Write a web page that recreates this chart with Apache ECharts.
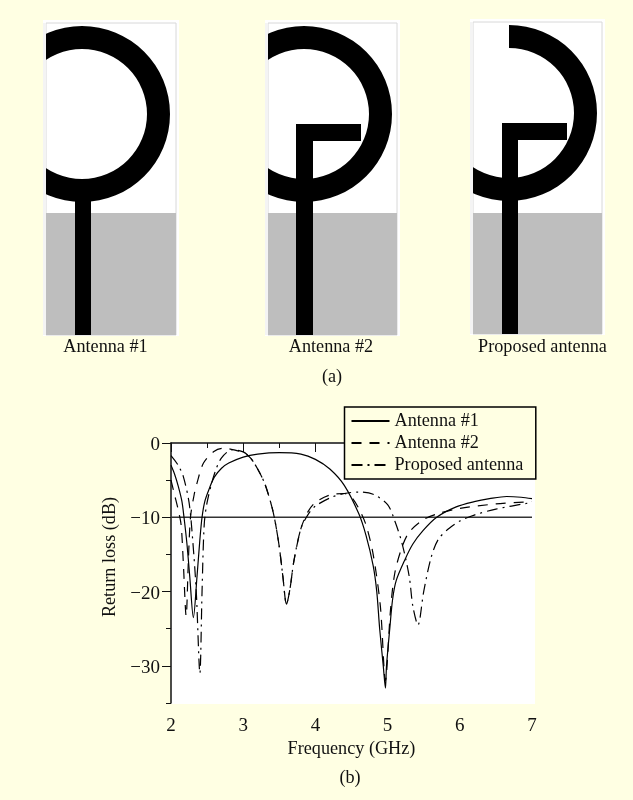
<!DOCTYPE html>
<html><head><meta charset="utf-8">
<script src="https://cdn.jsdelivr.net/npm/echarts@6/dist/echarts.min.js"></script>
<style>html,body{margin:0;padding:0;background:#FFFFE3}#c{width:633px;height:800px}</style>
</head><body><div id="c"></div>
<script>
const seriesNames = ['Antenna #1', 'Antenna #2', 'Proposed antenna'];
const yMajorTicks = [0,-10,-20,-30];
const yMinorTicks = [-5,-15,-25,-35];
const yTickLabels = {'0':'0','-10':'\u221210','-20':'\u221220','-30':'\u221230'};
const antenna1 = [[2,-3],[2.05,-4.2],[2.1,-5.8],[2.15,-7.8],[2.18,-10],[2.22,-13.5],[2.26,-18],[2.31,-23.5],[2.36,-18],[2.4,-13],[2.43,-10],[2.47,-7.8],[2.54,-5.9],[2.6,-4.6],[2.7,-3.4],[2.8,-2.7],[3,-1.9],[3.2,-1.5],[3.5,-1.3],[3.8,-1.5],[4,-2.2],[4.2,-3.5],[4.4,-5.7],[4.6,-9.5],[4.7,-12.4],[4.8,-16.5],[4.85,-20],[4.89,-25],[4.94,-30],[4.97,-33],[4.985,-30],[5.03,-25],[5.07,-21],[5.12,-18.5],[5.24,-15.7],[5.35,-13.6],[5.49,-11.8],[5.68,-10],[5.95,-8.6],[6.2,-7.9],[6.41,-7.5],[6.65,-7.2],[6.85,-7.3],[7,-7.5]];
const antenna2 = [[2,-5],[2.05,-7],[2.1,-9],[2.14,-11],[2.17,-16],[2.21,-23.3],[2.24,-16],[2.27,-10],[2.32,-7],[2.36,-5.4],[2.45,-2.7],[2.6,-1.1],[2.73,-0.7],[2.9,-1],[3,-1.3],[3.1,-2],[3.2,-3.5],[3.3,-5.5],[3.4,-8.7],[3.45,-11],[3.5,-14],[3.55,-18],[3.6,-21.7],[3.65,-19.5],[3.7,-16],[3.8,-11.5],[3.9,-9.2],[4,-8],[4.2,-7],[4.4,-6.8],[4.5,-7.3],[4.6,-8.8],[4.7,-11],[4.8,-15],[4.9,-22],[4.97,-32],[5.04,-22.5],[5.1,-17.5],[5.2,-14],[5.3,-12],[5.5,-10.3],[5.7,-9.5],[6,-8.8],[6.5,-8.2],[7,-7.9]];
const proposed = [[2,-1.7],[2.1,-3],[2.17,-4.5],[2.25,-8],[2.3,-13],[2.35,-20],[2.4,-31],[2.43,-20],[2.46,-11],[2.5,-8],[2.6,-4.2],[2.7,-2],[2.85,-0.9],[3,-1.2],[3.1,-2],[3.2,-3.5],[3.3,-5.5],[3.4,-8.7],[3.45,-11],[3.5,-14],[3.55,-18],[3.6,-21.7],[3.65,-19.5],[3.7,-16],[3.8,-11.5],[3.9,-9.6],[4,-8.5],[4.2,-7.4],[4.4,-6.8],[4.6,-6.6],[4.8,-6.9],[5,-8.3],[5.1,-10.5],[5.2,-13.5],[5.3,-18],[5.35,-22],[5.42,-24.5],[5.5,-20],[5.6,-15.5],[5.7,-13],[5.85,-11.5],[6,-10.5],[6.2,-9.7],[6.5,-8.9],[7,-8]];
const thresholdLine = [[2,-10],[7,-10]];

const BG = '#FFFFE3', FONT = '"Liberation Serif", serif', FS = 18.2, TFS = 19;
const G = '#BEBEBE', K = '#000000';
function panel(px, w, top, gray, bottom, cx, cy, startA, endA, feedL, feedR, feedTop, armTop, armBot, armR) {
  const els = [
    {type:'rect', z:1, shape:{x:px-3,y:top-3,width:w+6,height:bottom-top+4}, style:{fill:'#FFFFFF'}},
    {type:'rect', z:2, shape:{x:px,y:top,width:w,height:bottom-top}, style:{fill:'#FFFFFF',stroke:'#D8D8D8',lineWidth:1}},
    {type:'rect', z:2, shape:{x:px,y:gray,width:w,height:bottom-gray}, style:{fill:G}},
    {type:'sector', z:3, shape:{cx,cy,r:88,r0:65,startAngle:startA,endAngle:endA,clockwise:true}, style:{fill:K}},
    {type:'rect', z:4, shape:{x:px-70,y:top-3,width:67,height:bottom-top+6}, style:{fill:BG}},
    {type:'rect', z:4, shape:{x:px-3,y:top,width:3,height:bottom-top}, style:{fill:'#F4F4F4'}},
    {type:'rect', z:5, shape:{x:feedL,y:feedTop,width:feedR-feedL,height:bottom-feedTop}, style:{fill:K}}
  ];
  if (armR) els.push({type:'rect', z:5, shape:{x:feedL,y:armTop,width:armR-feedL,height:armBot-armTop}, style:{fill:K}});
  return els;
}
function label(text, x, y, rotation) {
  return {type:'text', z:6, x, y, rotation:rotation||0, style:{text, font:FS+'px '+FONT, fill:'#111', textAlign:'center', textVerticalAlign:'middle'}};
}
const graphics = [].concat(
  panel(46,130,23,213,335,82,114,-Math.PI,Math.PI,75,91,195),
  panel(268,129,23,213,335,304,114,-Math.PI,Math.PI,296,313,124,124,141,361),
  panel(473,129,22,213,334,509,113,-Math.PI/2,Math.PI,502,518,123,123,140,567),
  [
    label('Antenna #1',105.5,347), label('Antenna #2',331,347), label('Proposed antenna',542.5,347),
    label('(a)',332,377), label('(b)',350,778),
    label('Return loss (dB)',110,557,Math.PI/2),
    {type:'rect', z:-10, shape:{x:171,y:442,width:364,height:262}, style:{fill:'#FFFFFF'}}
  ]
);
const common = {type:'line', showSymbol:false, symbol:'none', smooth:0.3, silent:true, z:3};
const chart = echarts.init(document.getElementById('c'), null, {renderer:'canvas'});
chart.setOption({
  animation:false,
  backgroundColor:BG,
  textStyle:{fontFamily:FONT, color:'#111'},
  graphic:graphics,
  legend:{
    data:seriesNames, orient:'vertical', left:344.5, top:407,
    padding:[5,12.5,5,6], itemWidth:38, itemHeight:10, itemGap:4, backgroundColor:BG,
    borderColor:'#000', borderWidth:1.5, borderRadius:0, selectedMode:false, z:20,
    itemStyle:{opacity:0},
    textStyle:{fontFamily:FONT, fontSize:FS, color:'#111', height:16, lineHeight:16}
  },
  grid:{left:171,top:443,width:361,height:260,containLabel:false},
  xAxis:{
    type:'value', min:2, max:7, interval:1,
    name:'Frequency (GHz)', nameLocation:'middle', nameGap:37,
    nameTextStyle:{fontFamily:FONT,fontSize:FS,color:'#111'},
    axisLine:{lineStyle:{color:'#111',width:1.5}},
    axisTick:{show:true,length:9,lineStyle:{color:'#111',width:1}},
    minorTick:{show:true,splitNumber:2,length:5,lineStyle:{color:'#111',width:1}},
    splitLine:{show:false},
    axisLabel:{fontFamily:FONT,fontSize:TFS,color:'#111',margin:14}
  },
  yAxis:[{
    type:'value', min:-35, max:0, interval:5,
    axisLine:{lineStyle:{color:'#111',width:1.5}},
    axisTick:{show:true,length:9,customValues:yMajorTicks,lineStyle:{color:'#111',width:1}},
    splitLine:{show:false},
    axisLabel:{fontFamily:FONT,fontSize:TFS,color:'#111',margin:11,verticalAlign:'top',lineHeight:4,customValues:yMajorTicks,
      formatter:v=>yTickLabels[String(v)]||''}
  },{
    type:'value', min:-35, max:0, interval:5, position:'left', offset:0,
    axisLine:{show:false},
    axisTick:{show:true,length:5,customValues:yMinorTicks,lineStyle:{color:'#111',width:1}},
    splitLine:{show:false},
    axisLabel:{show:false}
  }],
  series:[
    {...common,name:seriesNames[0],data:antenna1,lineStyle:{color:'#000',width:1.2,type:'solid'}},
    {...common,name:seriesNames[1],data:antenna2,lineStyle:{color:'#000',width:1.2,type:[10,8]}},
    {...common,name:seriesNames[2],data:proposed,lineStyle:{color:'#000',width:1.2,type:[11,5,2,5]}},
    {type:'line',name:'threshold',data:thresholdLine,symbol:'none',silent:true,z:2,lineStyle:{color:'#333',width:1.5}}
  ]
});
</script></body></html>
